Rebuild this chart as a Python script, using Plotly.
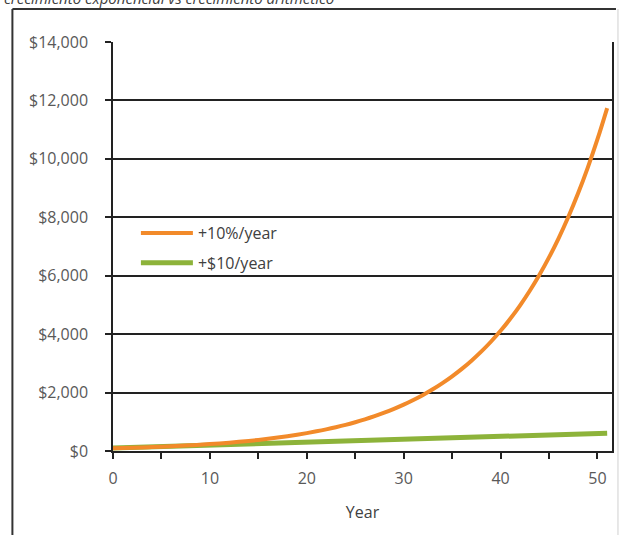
import plotly.graph_objects as go

years = list(range(0, 52))
pct_growth = [91, 100, 110, 121, 133, 146, 161, 177, 195, 214,
              236, 259, 285, 314, 345, 380, 418, 459, 505, 556,
              612, 673, 740, 814, 895, 985, 1083, 1192, 1311, 1442,
              1586, 1745, 1919, 2111, 2323, 2555, 2810, 3091, 3400, 3740,
              4114, 4526, 4978, 5476, 6024, 6626, 7289, 8018, 8820, 9702,
              10672, 11739]
lin_growth = [100, 110, 120, 130, 140, 150, 160, 170, 180, 190,
              200, 210, 220, 230, 240, 250, 260, 270, 280, 290,
              300, 310, 320, 330, 340, 350, 360, 370, 380, 390,
              400, 410, 420, 430, 440, 450, 460, 470, 480, 490,
              500, 510, 520, 530, 540, 550, 560, 570, 580, 590,
              600, 610]
series_names = ["+10%/year", "+$10/year"]
y_ticks = [0, 2000, 4000, 6000, 8000, 10000, 12000, 14000]
y_tick_labels = ["$0", "$2,000", "$4,000", "$6,000", "$8,000", "$10,000", "$12,000", "$14,000"]
title_text = "crecimiento exponencial vs crecimiento aritmético"

FONT = "Open Sans"
GRAY = "#595959"

fig = go.Figure()
fig.add_trace(go.Scatter(x=years, y=lin_growth, mode="lines", name=series_names[1],
                         line=dict(color="#8DB33A", width=5), legendgroup="b",
                         legendrank=2))
fig.add_trace(go.Scatter(x=years, y=pct_growth, mode="lines", name=series_names[0],
                         line=dict(color="#F28A2A", width=4), legendgroup="a",
                         legendrank=1, line_shape="spline"))

L, R, T, B = 113, 12, 42, 84
W, H = 626, 535
pw = W - L - R
ph = H - T - B

def px2paper_x(px):
    return (px - L) / pw

def px2paper_y(py):
    return (H - B - py) / ph

fig.update_layout(
    width=W, height=H,
    margin=dict(l=L, r=R, t=T, b=B),
    paper_bgcolor="white", plot_bgcolor="white",
    font=dict(family=FONT, size=16, color=GRAY),
    showlegend=True,
    legend=dict(x=px2paper_x(136), y=px2paper_y(216), xanchor="left", yanchor="top",
                bgcolor="rgba(0,0,0,0)", font=dict(size=16, color="#404040"),
                tracegroupgap=6, traceorder="grouped", itemwidth=52),
    xaxis=dict(range=[0, 51.5], tickmode="array", tickvals=[0, 10, 20, 30, 40, 50],
               ticks="outside", ticklen=6, tickcolor="#222", tickwidth=1.5,
               minor=dict(tickvals=[5, 15, 25, 35, 45], ticks="outside", ticklen=6,
                          tickcolor="#222", tickwidth=1.5, showgrid=False),
               showline=True, linecolor="#222", linewidth=1.5, showgrid=False,
               zeroline=False, ticklabelstandoff=6, layer="below traces",
               title=dict(text="Year", standoff=19, font=dict(size=16, color="#404040"))),
    yaxis=dict(range=[0, 14000], tickmode="array", tickvals=y_ticks, ticktext=y_tick_labels,
               ticks="outside", ticklen=6, tickcolor="#222", tickwidth=1.5,
               showline=True, mirror=True, linecolor="#222", linewidth=1.5,
               showgrid=True, gridcolor="#222", gridwidth=1.5, zeroline=False,
               ticklabelstandoff=14, layer="below traces"),
)

# outer frame (partially visible)
fig.add_shape(type="line", xref="paper", yref="paper",
              x0=px2paper_x(12), x1=px2paper_x(12), y0=px2paper_y(9), y1=px2paper_y(545),
              line=dict(color="#333", width=2))
fig.add_shape(type="line", xref="paper", yref="paper",
              x0=px2paper_x(12), x1=px2paper_x(618), y0=px2paper_y(9), y1=px2paper_y(9),
              line=dict(color="#333", width=2))
fig.add_shape(type="line", xref="paper", yref="paper",
              x0=px2paper_x(620), x1=px2paper_x(620), y0=px2paper_y(9), y1=px2paper_y(545),
              line=dict(color="#d0d0d0", width=1))

fig.add_annotation(text="<i>" + title_text + "</i>", xref="paper", yref="paper",
                   x=px2paper_x(2), y=px2paper_y(-2), xanchor="left", yanchor="middle",
                   showarrow=False, font=dict(size=15, color="#404040"))

fig.write_html("out.html")
